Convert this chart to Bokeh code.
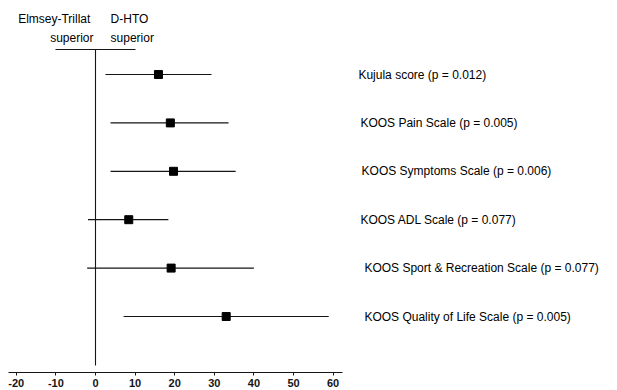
from bokeh.plotting import figure
from bokeh.models import Range1d, FixedTicker, ColumnDataSource
from bokeh.core.properties import value
from bokeh.embed import file_html
from bokeh.resources import INLINE

# ---- data ----
labels = [
    "Kujula score (p = 0.012)",
    "KOOS Pain Scale (p = 0.005)",
    "KOOS Symptoms Scale (p = 0.006)",
    "KOOS ADL Scale (p = 0.077)",
    "KOOS Sport & Recreation Scale (p = 0.077)",
    "KOOS Quality of Life Scale (p = 0.005)",
]
estimate = [15.9, 18.9, 19.7, 8.4, 19.1, 33.0]
lower = [2.5, 3.8, 3.8, -1.9, -2.1, 7.1]
upper = [29.3, 33.6, 35.4, 18.4, 40.0, 58.9]
xticks = [-20, -10, 0, 10, 20, 30, 40, 50, 60]
xtick_labels = {-20: "-20", -10: "-10"}
rows = list(range(len(labels)))
label_x = [66.4, 66.9, 67.2, 66.9, 67.9, 67.9]

FONT = "Liberation Sans"
INK = "#151515"

p = figure(width=617, height=390, output_backend="svg", toolbar_location=None,
           x_range=Range1d(-23.99, 131.82), y_range=Range1d(6.157, -1.529),
           min_border_left=0, min_border_right=0, min_border_top=0,
           min_border_bottom=18, y_axis_location=None)
p.outline_line_color = None
p.xgrid.visible = False
p.ygrid.visible = False

ax = p.xaxis[0]
ax.ticker = FixedTicker(ticks=xticks)
ax.major_label_overrides = xtick_labels
ax.bounds = (-21.97, 62.3)
ax.axis_line_color = INK
ax.axis_line_width = 1.2
ax.major_tick_line_color = INK
ax.major_tick_out = 3
ax.major_tick_in = 0
ax.minor_tick_line_color = None
ax.major_label_standoff = 3
ax.major_label_text_font = FONT
ax.major_label_text_font_size = "11px"
ax.major_label_text_font_style = "bold"
ax.major_label_text_color = INK

src = ColumnDataSource(dict(y=rows, est=estimate, lo=lower, hi=upper,
                            lab=labels, lx=label_x))

# zero line and header rule
p.segment(x0=[0], y0=[-0.517], x1=[0], y1=[6.01], line_color=INK, line_width=1.1)
p.segment(x0=[-10.1], y0=[-0.517], x1=[10.1], y1=[-0.517], line_color=INK, line_width=1.1)

# CIs and points
p.segment(x0="lo", y0="y", x1="hi", y1="y", source=src, line_color=INK, line_width=1.2)
p.scatter(x="est", y="y", source=src, marker="square", size=8,
          fill_color="black", line_color="black")

p.text(x="lx", y="y", text="lab", source=src, text_font=value(FONT),
       text_font_size="12px", text_color="black", text_baseline="middle", text_align="left")

# headers
hdr = dict(text_font=value(FONT), text_font_size="12px", text_color="black",
           text_baseline="middle")
p.text(x=[-1.3], y=[-1.157], text=["Elmsey-Trillat"], text_align="right", **hdr)
p.text(x=[-0.5], y=[-0.744], text=["superior"], text_align="right", **hdr)
p.text(x=[3.8, 3.8], y=[-1.157, -0.744], text=["D-HTO", "superior"], text_align="left", **hdr)

open("out.html", "w").write(file_html(p, INLINE))
